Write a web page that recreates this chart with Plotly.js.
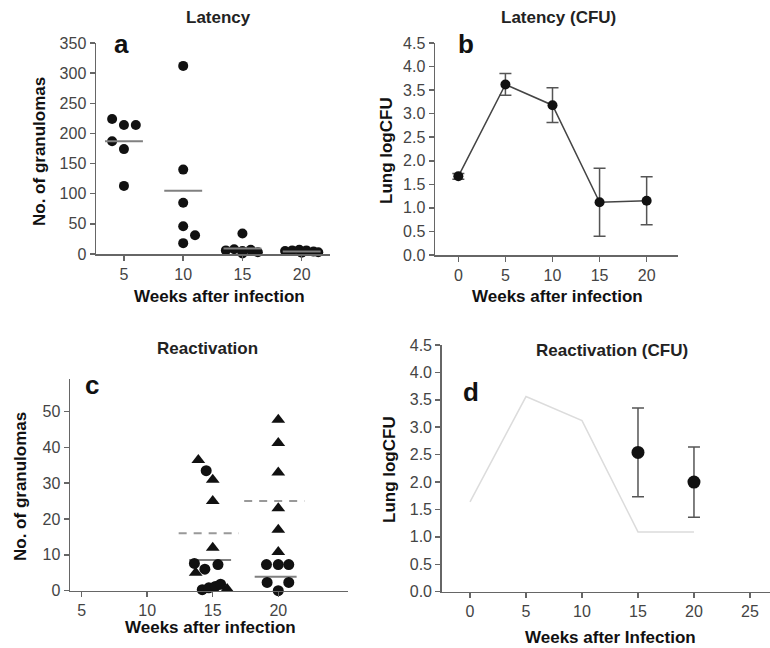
<!DOCTYPE html>
<html>
<head>
<meta charset="utf-8">
<script src="https://cdn.plot.ly/plotly-3.0.1.min.js"></script>
<style>html,body{margin:0;padding:0;background:#fff;}#chart{width:770px;height:648px;}</style>
</head>
<body>
<div id="chart"></div>
<script>
// ---------- Panel a: Latency (granulomas) ----------
const aWeeks = [5, 10, 15, 20];
const aValues = [
  [224, 214, 214, 187, 174, 113],
  [312, 140, 85, 46, 18, 31],
  [34, 6, 8, 5, 1, 7, 3],
  [5, 6, 7, 2, 6, 4, 3]
];
const aJitter = [
  [-1, 0, 1, -1, 0, 0],
  [0, 0, 0, 0, 0, 1],
  [0, -1.4, -0.7, 0, 0, 0.7, 1.3],
  [-1.4, -0.8, -0.2, 0, 0.4, 1.0, 1.4]
];
const aMeans = [187, 105, 9, 4];

// ---------- Panel b: Latency (CFU) ----------
const bWeeks = [0, 5, 10, 15, 20];
const bLogCFU = [1.67, 3.62, 3.18, 1.12, 1.15];
const bErr = [0.06, 0.23, 0.37, 0.72, 0.51];

// ---------- Panel c: Reactivation (granulomas) ----------
const cWeeks = [15, 20];
const cTriangles = [
  [36.5, 31, 25, 12, 5, 0.5],
  [47.7, 41.2, 33, 23, 17, 10.8]
];
const cTriJitter = [
  [-1.1, 0, 0, 0, -1.3, 1.1],
  [0, 0, 0, 0, 0, 0]
];
const cCircles = [
  [33.5, 7.6, 6, 7.3, 0.3, 0.8, 1.2, 1.8],
  [7.3, 7.3, 7.3, 2.3, 2.3, 0]
];
const cCirJitter = [
  [-0.5, -1.4, -0.6, 0.4, -0.8, -0.3, 0.2, 0.6],
  [-0.9, 0, 0.8, -0.85, 0.8, 0]
];
const cSolidMeans = [8.6, 3.9];
const cDashedMeans = [16, 25];

// ---------- Panel d: Reactivation (CFU) ----------
const dWeeks = [15, 20];
const dLogCFU = [2.54, 2.0];
const dErr = [0.81, 0.64];
const dRefWeeks = [0, 5, 10, 15, 20];
const dRefLogCFU = [1.64, 3.56, 3.12, 1.09, 1.09];

// ---------- helpers ----------
const W = 770, H = 648;
const px = x => x / W;
const py = y => 1 - y / H;
const FONT = 'Liberation Sans, Arial, sans-serif';
const dark = '#111';

const traces = [];

// panel a
aWeeks.forEach((w, i) => {
  traces.push({
    type: 'scatter', mode: 'markers', xaxis: 'x', yaxis: 'y', cliponaxis: false,
    x: aValues[i].map((v, j) => w + aJitter[i][j]), y: aValues[i],
    marker: {symbol: 'circle', size: 10, color: dark}, showlegend: false, hoverinfo: 'skip'
  });
  traces.push({
    type: 'scatter', mode: 'lines', xaxis: 'x', yaxis: 'y', cliponaxis: false,
    x: [w - 1.6, w + 1.6], y: [aMeans[i], aMeans[i]],
    line: {color: '#808080', width: 2}, showlegend: false, hoverinfo: 'skip'
  });
});

// panel b
traces.push({
  type: 'scatter', mode: 'lines+markers', xaxis: 'x2', yaxis: 'y2', cliponaxis: false,
  x: bWeeks, y: bLogCFU,
  line: {color: '#444', width: 1.5},
  marker: {symbol: 'circle', size: 10, color: dark},
  error_y: {type: 'data', array: bErr, visible: true, color: '#555', thickness: 1.5, width: 6},
  showlegend: false, hoverinfo: 'skip'
});

// panel c
cWeeks.forEach((w, i) => {
  traces.push({
    type: 'scatter', mode: 'lines', xaxis: 'x3', yaxis: 'y3', cliponaxis: false,
    x: [w - 2.6, w + 2.0], y: [cDashedMeans[i], cDashedMeans[i]],
    line: {color: '#999', width: 2, dash: '8px,7px'}, showlegend: false, hoverinfo: 'skip'
  });
  traces.push({
    type: 'scatter', mode: 'lines', xaxis: 'x3', yaxis: 'y3', cliponaxis: false,
    x: [w - 1.8, w + 1.4], y: [cSolidMeans[i], cSolidMeans[i]],
    line: {color: '#808080', width: 2}, showlegend: false, hoverinfo: 'skip'
  });
  traces.push({
    type: 'scatter', mode: 'markers', xaxis: 'x3', yaxis: 'y3', cliponaxis: false,
    x: cTriangles[i].map((v, j) => w + cTriJitter[i][j]), y: cTriangles[i],
    marker: {symbol: 'triangle-up', size: 12, color: dark}, showlegend: false, hoverinfo: 'skip'
  });
  traces.push({
    type: 'scatter', mode: 'markers', xaxis: 'x3', yaxis: 'y3', cliponaxis: false,
    x: cCircles[i].map((v, j) => w + cCirJitter[i][j]), y: cCircles[i],
    marker: {symbol: 'circle', size: 11, color: dark}, showlegend: false, hoverinfo: 'skip'
  });
});

// panel d
traces.push({
  type: 'scatter', mode: 'lines', xaxis: 'x4', yaxis: 'y4',
  x: dRefWeeks, y: dRefLogCFU,
  line: {color: '#dcdcdc', width: 1.5}, showlegend: false, hoverinfo: 'skip'
});
traces.push({
  type: 'scatter', mode: 'markers', xaxis: 'x4', yaxis: 'y4', cliponaxis: false,
  x: dWeeks, y: dLogCFU,
  marker: {symbol: 'circle', size: 13, color: dark},
  error_y: {type: 'data', array: dErr, visible: true, color: '#555', thickness: 1.5, width: 6},
  showlegend: false, hoverinfo: 'skip'
});

function axis(extra) {
  return Object.assign({
    showline: true, linecolor: '#666', linewidth: 1.5,
    ticks: 'outside', ticklen: 5, tickwidth: 1.5, tickcolor: '#666',
    showgrid: false, zeroline: false,
    tickfont: {family: FONT, size: 16, color: '#444'},
    fixedrange: true
  }, extra);
}

const titleFont = {family: FONT, size: 17, color: '#222', weight: 'bold'};
const axTitleFont = {family: FONT, size: 17, color: '#111', weight: 'bold'};
const letterFont = {family: FONT, size: 26, color: '#111', weight: 'bold'};

function ann(text, x, y, font, angle) {
  return {text: text, xref: 'paper', yref: 'paper', x: px(x), y: py(y),
          xanchor: 'center', yanchor: 'middle', showarrow: false, font: font,
          textangle: angle || 0};
}

const layout = {
  width: W, height: H,
  margin: {l: 0, r: 0, t: 0, b: 0},
  paper_bgcolor: '#fff', plot_bgcolor: '#fff',
  showlegend: false,
  xaxis: axis({domain: [px(96), px(330)], range: [2.64, 22.39], anchor: 'y', tickvals: aWeeks}),
  yaxis: axis({domain: [py(254), py(43)], range: [0, 350], anchor: 'x', dtick: 50}),
  xaxis2: axis({domain: [px(435), px(678)], range: [-2.48, 23.33], anchor: 'y2', tickvals: bWeeks}),
  yaxis2: axis({domain: [py(255), py(43)], range: [0, 4.5], anchor: 'x2', dtick: 0.5, tickformat: '.1f'}),
  xaxis3: axis({domain: [px(70), px(348)], range: [4.11, 25.32], anchor: 'y3', tickvals: [5, 10, 15, 20]}),
  yaxis3: axis({domain: [py(590.7), py(379.3)], range: [0, 59], anchor: 'x3', tickvals: [0, 10, 20, 30, 40, 50]}),
  xaxis4: axis({domain: [px(441.7), 1], range: [-2.53, 26.79], anchor: 'y4', tickvals: [0, 5, 10, 15, 20, 25]}),
  yaxis4: axis({domain: [py(591.7), py(345)], range: [0, 4.5], anchor: 'x4', dtick: 0.5, tickformat: '.1f'}),
  annotations: [
    ann('Latency', 218, 17, titleFont),
    ann('Latency (CFU)', 558, 17, titleFont),
    ann('Reactivation', 208, 348, titleFont),
    ann('Reactivation (CFU)', 612, 350, titleFont),
    ann('a', 121, 44, letterFont),
    ann('b', 466, 44, letterFont),
    ann('c', 92, 385, letterFont),
    ann('d', 471, 392, letterFont),
    ann('Weeks after infection', 219, 296, axTitleFont),
    ann('Weeks after infection', 557, 296, axTitleFont),
    ann('Weeks after infection', 211, 627, axTitleFont),
    ann('Weeks after Infection', 610, 637, axTitleFont),
    ann('No. of granulomas', 40, 152, axTitleFont, -90),
    ann('Lung logCFU', 386, 150, axTitleFont, -90),
    ann('No. of granulomas', 20, 487, axTitleFont, -90),
    ann('Lung logCFU', 389, 470, axTitleFont, -90)
  ]
};

Plotly.newPlot('chart', traces, layout, {staticPlot: true, displayModeBar: false});
</script>
</body>
</html>
